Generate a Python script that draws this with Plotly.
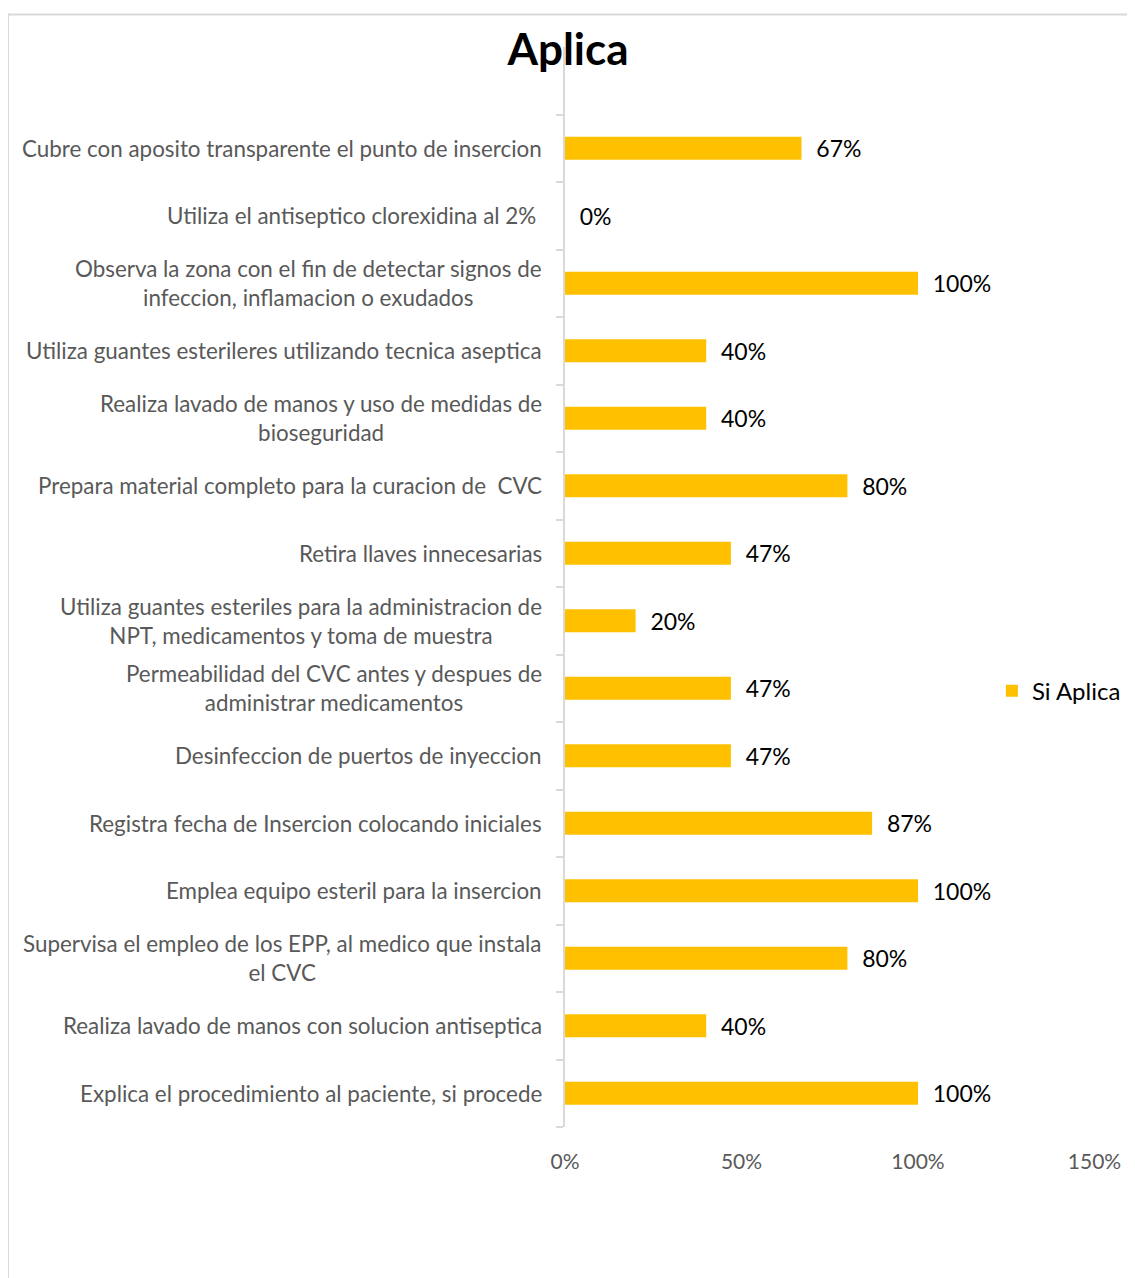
import plotly.graph_objects as go

# Categories listed top-to-bottom as in the reference
categories = [
    "Cubre con aposito transparente el punto de insercion",
    "Utiliza el antiseptico clorexidina al 2% ",
    "Observa la zona con el fin de detectar signos de<br>infeccion, inflamacion o exudados",
    "Utiliza guantes esterileres utilizando tecnica aseptica",
    "Realiza lavado de manos y uso de medidas de<br>bioseguridad",
    "Prepara material completo para la curacion de  CVC",
    "Retira llaves innecesarias",
    "Utiliza guantes esteriles para la administracion de<br>NPT, medicamentos y toma de muestra",
    "Permeabilidad del CVC antes y despues de<br>administrar medicamentos",
    "Desinfeccion de puertos de inyeccion",
    "Registra fecha de Insercion colocando iniciales",
    "Emplea equipo esteril para la insercion",
    "Supervisa el empleo de los EPP, al medico que instala<br>el CVC",
    "Realiza lavado de manos con solucion antiseptica",
    "Explica el procedimiento al paciente, si procede",
]
si_aplica = [0.67, 0.00, 1.00, 0.40, 0.40, 0.80, 0.47, 0.20, 0.47, 0.47, 0.87, 1.00, 0.80, 0.40, 1.00]
x_ticks = [0, 0.5, 1.0, 1.5]
x_tick_labels = ["0%", "50%", "100%", "150%"]
series_name = "Si Aplica"
title = "Aplica"

# plot bottom-to-top
cats_b = categories[::-1]
vals_b = si_aplica[::-1]

OFF = 8  # page body margin
W, H = 1135 - OFF, 1278 - OFF
L = 565 - OFF
PR = 1094.5 - OFF          # plot right edge (px)
T, B = 46.5 - OFF, 1127 - OFF
PW = W - L                 # paper width (margin r = 0)
PH = B - T

FONT = "Lato"
GRAY = "#595959"
LINE = "#d9d9d9"
GOLD = "#FFC000"

fig = go.Figure()
fig.add_trace(go.Bar(
    x=vals_b,
    y=cats_b,
    orientation="h",
    name=series_name,
    marker=dict(color=GOLD, line=dict(width=0)),
    text=[f"{v:.0%}" for v in vals_b],
    texttemplate="  %{text}",
    textposition="outside",
    constraintext="none",
    textfont=dict(family=FONT, size=23, color="black"),
    cliponaxis=False,
    showlegend=True,
))

# category labels as centred multi-line annotations
label_right_px = 544 - OFF
for c in cats_b:
    fig.add_annotation(
        x=(label_right_px - L) / PW, xref="paper",
        y=c, yref="y",
        text=c, showarrow=False,
        xanchor="right", yanchor="middle", align="center",
        font=dict(family=FONT, size=22.4, color=GRAY),
    )

fig.update_layout(
    width=W, height=H,
    margin=dict(l=L, r=0, t=T, b=H - B, pad=0, autoexpand=False),
    paper_bgcolor="white", plot_bgcolor="white",
    bargap=0.66,
    title=dict(text=f"<b>{title}</b>", x=(568 - OFF) / W, xanchor="center",
               y=1 - (50 - OFF) / H, yanchor="middle",
               font=dict(family=FONT, size=44, color="black")),
    legend=dict(xref="paper", yref="paper", x=0.984,
                y=(B - (691 - OFF)) / PH,
                xanchor="right", yanchor="middle",
                font=dict(family=FONT, size=24, color="black"),
                itemwidth=30, bgcolor="rgba(0,0,0,0)"),
    xaxis=dict(domain=[0, (PR - L) / PW], automargin=False,
               range=[0, 1.5], tickvals=x_ticks, ticktext=x_tick_labels,
               showgrid=False, zeroline=False, showline=False, ticks="",
               tickfont=dict(family=FONT, size=21, color=GRAY),
               ticklabelstandoff=20),
    yaxis=dict(type="category", categoryorder="array", categoryarray=cats_b,
               automargin=False,
               range=[-0.5, len(cats_b) - 0.5 + 1],
               showticklabels=False, showgrid=False, zeroline=False,
               showline=True, linecolor=LINE, linewidth=2,
               ticks="outside", tickson="boundaries", ticklen=7,
               tickcolor=LINE, tickwidth=2),
)

# outer chart border
fig.add_shape(type="rect", xref="paper", yref="paper",
              x0=(0 - L) / PW, x1=(W + 20 - L) / PW,
              y0=(B - (H + 20)) / PH, y1=(B - (14 - OFF)) / PH,
              line=dict(color=LINE, width=2), fillcolor="rgba(0,0,0,0)", layer="below")

fig.write_html("out.html")
